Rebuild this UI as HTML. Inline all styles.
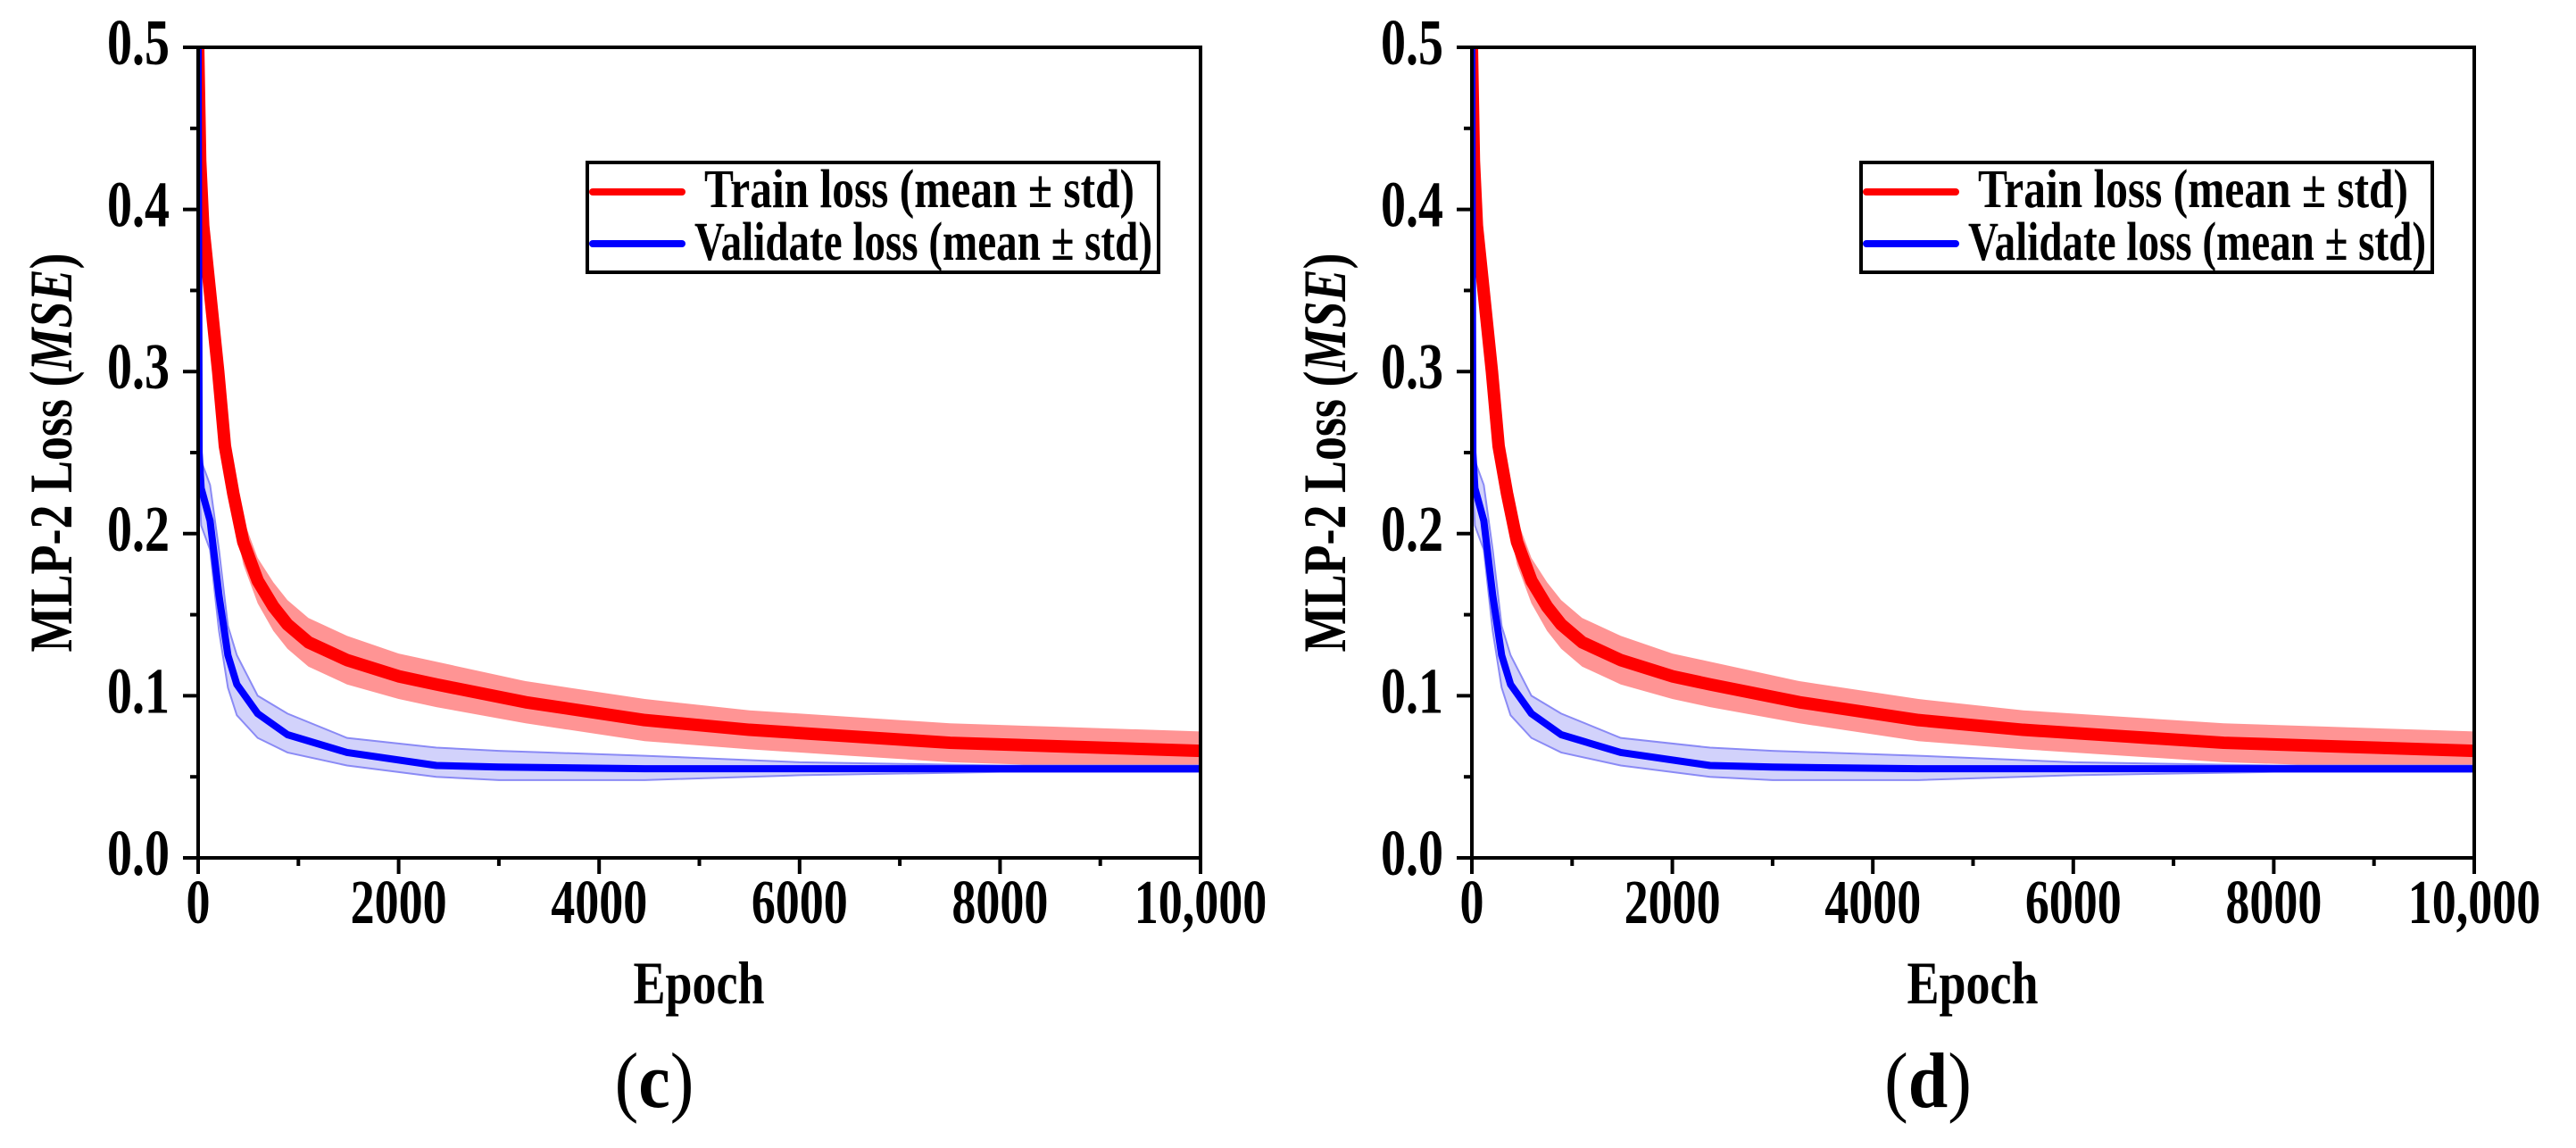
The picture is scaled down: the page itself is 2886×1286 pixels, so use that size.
<!DOCTYPE html>
<html><head><meta charset="utf-8"><style>
html,body{margin:0;padding:0;background:#fff;}
svg{display:block;}
text{font-family:"Liberation Serif","Times New Roman",serif;font-weight:bold;fill:#000;}
</style></head><body>
<svg id="fig" width="2886" height="1286" viewBox="0 0 2886 1286" xmlns="http://www.w3.org/2000/svg"></svg>
<script>
const trainEpochs = [0,20,50,100,150,200,267,350,450,594,750,891,1100,1485,2000,2376,3267,4455,5500,6500,7500,8500,10000];
const trainMean = [0.50,0.43,0.39,0.36,0.33,0.30,0.254,0.225,0.195,0.171,0.155,0.144,0.133,0.122,0.112,0.107,0.096,0.085,0.079,0.075,0.071,0.069,0.066];
const trainStd = [0.01,0.012,0.013,0.014,0.014,0.014,0.014,0.014,0.014,0.014,0.015,0.015,0.015,0.015,0.014,0.014,0.013,0.013,0.012,0.012,0.012,0.012,0.012];
const valEpochs = [0,10,30,119,208,297,386,594,891,1485,2376,3000,4455,6000,8000,10000];
const valMean = [0.50,0.25,0.228,0.208,0.162,0.125,0.107,0.089,0.076,0.065,0.057,0.056,0.055,0.055,0.055,0.055];
const valUpper = [0.5,0.27,0.245,0.23,0.19,0.143,0.125,0.10,0.089,0.074,0.068,0.066,0.063,0.059,0.057,0.057];
const valLower = [0.5,0.23,0.205,0.19,0.14,0.105,0.088,0.074,0.065,0.057,0.050,0.048,0.048,0.051,0.053,0.053];
const yTicks = [0.0,0.1,0.2,0.3,0.4,0.5];
const yTickLabels = ["0.0","0.1","0.2","0.3","0.4","0.5"];
const xTicks = [0,2000,4000,6000,8000,10000];
const xTickLabels = ["0","2000","4000","6000","8000","10,000"];
const panelLetters = ["c","d"];

const NS="http://www.w3.org/2000/svg";
const svg=document.getElementById('fig');
function mk(tag,attrs,parent){const e=document.createElementNS(NS,tag);for(const k in attrs)e.setAttribute(k,attrs[k]);(parent||svg).appendChild(e);return e;}
function tx(parent,x,y,size,anchor,sy,extra){
  const a={x:0,y:0,'text-anchor':anchor,'font-size':size,transform:'translate('+x+','+y+') '+(extra||'')+' scale(1,'+sy+')'};
  return mk('text',a,parent);
}

function panel(idx,offX){
  const L=222+offX,R=1345+offX,T=53,B=961;
  const xs=v=>L+(v/10000)*(R-L);
  const ys=v=>B-(v/0.5)*(B-T);
  const g=mk('g',{});
  
  
  const clipId='clip'+idx;
  const cp=mk('clipPath',{id:clipId},g);mk('rect',{x:L,y:T,width:R-L,height:B-T},cp);
  const pg=mk('g',{'clip-path':'url(#'+clipId+')'},g);
  let up=trainEpochs.map((e,i)=>xs(e)+','+ys(trainMean[i]+trainStd[i]));
  let lo=trainEpochs.map((e,i)=>xs(e)+','+ys(trainMean[i]-trainStd[i])).reverse();
  const tb=mk('polygon',{points:up.concat(lo).join(' '),fill:'#ff9494'},pg);
  
  
  up=valEpochs.map((e,i)=>xs(e)+','+ys(valUpper[i]));
  lo=valEpochs.map((e,i)=>xs(e)+','+ys(valLower[i])).reverse();
  const vb=mk('polygon',{points:up.concat(lo).join(' '),fill:'#d2d2fb',stroke:'#8a8af5','stroke-width':2},pg);
  
  
  const tl=mk('polyline',{points:trainEpochs.map((e,i)=>xs(e)+','+ys(trainMean[i])).join(' '),fill:'none',stroke:'#ff0000','stroke-width':14,'stroke-linejoin':'round'},pg);
  
  
  const vl=mk('polyline',{points:valEpochs.map((e,i)=>xs(e)+','+ys(valMean[i])).join(' '),fill:'none',stroke:'#0000ff','stroke-width':8,'stroke-linejoin':'round'},pg);
  
  
  const fr=mk('rect',{x:L,y:T,width:R-L,height:B-T,fill:'none',stroke:'#000','stroke-width':4},g);
  
  
  yTicks.forEach((v,i)=>{
    mk('line',{x1:L-17,x2:L,y1:ys(v),y2:ys(v),stroke:'#000','stroke-width':4},g);
    if(i<yTicks.length-1) mk('line',{x1:L-9,x2:L,y1:ys(v+0.05),y2:ys(v+0.05),stroke:'#000','stroke-width':4},g);
    const t=tx(g,190+offX,ys(v)+19,56,'end',1.3);
    
    
    t.textContent=yTickLabels[i];
  });
  xTicks.forEach((v,i)=>{
    mk('line',{x1:xs(v),x2:xs(v),y1:B,y2:B+18,stroke:'#000','stroke-width':4},g);
    if(i<xTicks.length-1) mk('line',{x1:xs(v+1000),x2:xs(v+1000),y1:B,y2:B+9,stroke:'#000','stroke-width':4},g);
    const t=tx(g,xs(v),1034,54,'middle',1.3);
    
    
    t.textContent=xTickLabels[i];
  });
  const xt=tx(g,783+offX,1124,54,'middle',1.25);
  
  
  xt.textContent='Epoch';
  const yt=mk('text',{x:0,y:0,'text-anchor':'middle','font-size':54,transform:'translate('+(80+offX)+',507) rotate(-90) scale(1,1.25)'},g);
  
  
  yt.innerHTML='MLP-2 Loss (<tspan font-style="italic">MSE</tspan>)';
  const pl=tx(g,733+offX,1240,80,'middle',1.1);
  
  
  pl.innerHTML='<tspan font-weight="normal">(</tspan>'+panelLetters[idx]+'<tspan font-weight="normal">)</tspan>';
  const lg=mk('g',{},g);
  
  
  mk('rect',{x:658+offX,y:182,width:640,height:123,fill:'#fff',stroke:'#000','stroke-width':4},lg);
  mk('line',{x1:664+offX,x2:764+offX,y1:215,y2:215,stroke:'#ff0000','stroke-width':8,'stroke-linecap':'round'},lg);
  mk('line',{x1:664+offX,x2:764+offX,y1:273,y2:273,stroke:'#0000ff','stroke-width':8,'stroke-linecap':'round'},lg);
  const t1=tx(lg,789+offX,232,47,'start',1.3);
  t1.setAttribute('textLength',482);
  t1.setAttribute('lengthAdjust','spacingAndGlyphs');
  
  
  t1.textContent='Train loss (mean ± std)';
  const t2=tx(lg,778+offX,291,47,'start',1.3);
  t2.setAttribute('textLength',513);
  t2.setAttribute('lengthAdjust','spacingAndGlyphs');
  
  
  t2.textContent='Validate loss (mean ± std)';
}
panel(0,0);
panel(1,1427);
</script>
</body></html>
